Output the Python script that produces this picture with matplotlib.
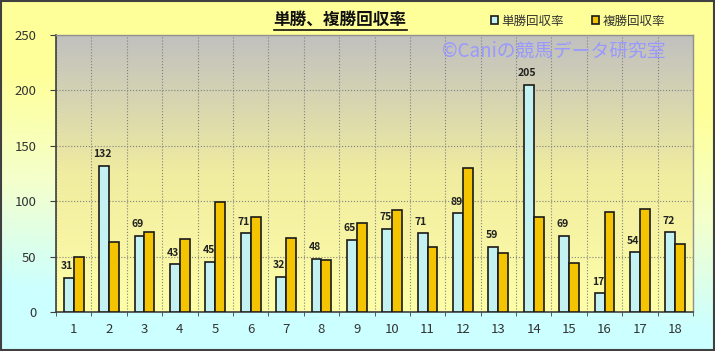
import numpy as np
import matplotlib.pyplot as plt
from matplotlib.colors import LinearSegmentedColormap
from matplotlib.patches import Rectangle

plt.rcParams['font.family'] = ['Noto Sans CJK JP', 'DejaVu Sans']

# データ
races = [str(i) for i in range(1, 19)]
tansho = [31, 132, 69, 43, 45, 71, 32, 48, 65, 75, 71, 89, 59, 205, 69, 17, 54, 72]
fukusho = [50, 63, 72, 66, 99, 86, 67, 47, 80, 92, 59, 130, 53, 86, 44, 90, 93, 61]

fig = plt.figure(figsize=(7.15, 3.51), dpi=100)

# 背景グラデーション（下=水色、上=黄色）
bg = fig.add_axes([0, 0, 1, 1], zorder=-10)
yy, xx = np.mgrid[0:1:200j, 0:1:200j]
t = np.clip((yy - 0.18 + 0.12 * xx) / 0.62, 0, 1)
cmap_bg = LinearSegmentedColormap.from_list('bg', ['#ccffff', '#f4ffcc', '#ffff99'])
bg.imshow(t, cmap=cmap_bg, origin='lower', extent=[0, 1, 0, 1], aspect='auto')
bg.add_patch(Rectangle((0.001, 0.002), 0.997, 0.995, fill=False, ec='#404040', lw=1.5))
bg.set_xlim(0, 1)
bg.set_ylim(0, 1)
bg.axis('off')

ax = fig.add_axes([56 / 715, 1 - 312 / 351, 637 / 715, 277 / 351])
x = np.arange(len(races))
w = 0.28

# プロットエリアのグラデーション（上=グレー、下=薄い黄色）
cmap_pa = LinearSegmentedColormap.from_list('pa', ['#ffffa8', '#f0eca0', '#c0c0c0'])
grad = np.linspace(0, 1, 256).reshape(-1, 1)
ax.imshow(grad, cmap=cmap_pa, origin='lower', extent=[-0.5, 17.5, 0, 250],
          aspect='auto', zorder=0)

ax.bar(x - w / 2, tansho, w, color='#c4f2f2', edgecolor='#1a1a1a', lw=1.2, zorder=3, label='単勝回収率')
ax.bar(x + w / 2, fukusho, w, color='#f5c400', edgecolor='#1a1a1a', lw=1.2, zorder=3, label='複勝回収率')

for xi, v in zip(x, tansho):
    ax.text(xi - w / 2 - 0.05, v + 6, str(v), ha='center', va='bottom',
            fontsize=7.5, fontweight='bold', color='#222222', zorder=4)

ax.set_xlim(-0.5, 17.5)
ax.set_ylim(0, 250)
ax.set_yticks(range(0, 251, 50))
ax.set_xticks(x)
ax.set_xticklabels(races)
ax.set_xticks(np.arange(-0.5, 17.6, 1), minor=True)
ax.grid(axis='y', which='major', color='#808080', ls=':', lw=0.8, zorder=1)
ax.grid(axis='x', which='minor', color='#808080', ls=':', lw=0.8, zorder=1)
ax.tick_params(axis='x', which='major', length=0, pad=8, labelsize=9.5, colors='#333333')
ax.tick_params(axis='x', which='minor', length=3, color='#404040')
ax.tick_params(axis='y', length=4, color='#404040', labelsize=9.5, labelcolor='#333333', pad=10)
ax.set_facecolor('none')
for s in ['left', 'bottom']:
    ax.spines[s].set_color('#404040')
    ax.spines[s].set_linewidth(1.2)
for s in ['top', 'right']:
    ax.spines[s].set_color('#909090')
    ax.spines[s].set_linewidth(1.0)

# 透かし
ax.text(0.957, 0.94, '©Caniの競馬データ研究室', transform=ax.transAxes, ha='right', va='center',
        fontsize=13.5, color='#9999ff', zorder=2)

# タイトル（下線付き）
title = fig.text(340 / 715, 1 - 20 / 351, '単勝、複勝回収率', ha='center', va='center',
                 fontsize=12, fontweight='bold', color='#111111')
fig.canvas.draw()
bb = title.get_window_extent().transformed(fig.transFigure.inverted())
fig.add_artist(plt.Line2D([bb.x0, bb.x1], [bb.y0 - 0.004, bb.y0 - 0.004], color='#111111', lw=1.2))

# 凡例
leg = fig.legend(loc='center', bbox_to_anchor=(578 / 715, 1 - 21 / 351), ncol=2, frameon=False,
                 fontsize=9, handlelength=0.6, handleheight=0.6, handletextpad=0.3, columnspacing=2.2,
                 labelcolor='#333333')

fig.savefig('out.png', dpi=100)
